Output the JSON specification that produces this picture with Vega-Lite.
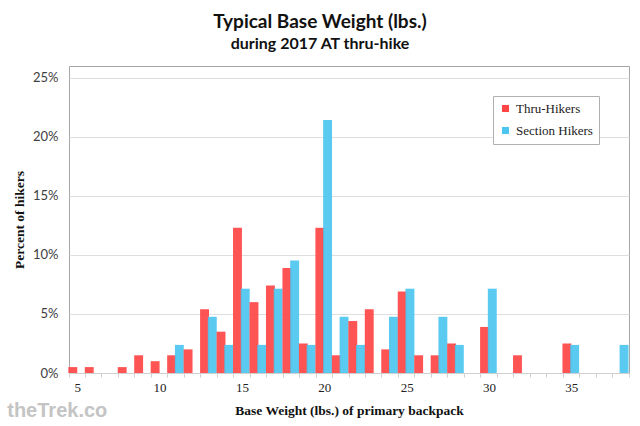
{
  "$schema": "https://vega.github.io/schema/vega-lite/v6.json",
  "autosize": "none",
  "width": 560,
  "height": 307,
  "padding": {"left": 69, "top": 66, "right": 11, "bottom": 53},
  "background": "white",
  "title": {
    "text": "Typical Base Weight (lbs.)",
    "subtitle": "during 2017 AT thru-hike",
    "anchor": "middle",
    "dx": -29,
    "offset": 14,
    "font": "Lato",
    "fontSize": 19,
    "fontWeight": "bold",
    "color": "#111111",
    "subtitleFont": "Lato",
    "subtitleFontSize": 16,
    "subtitleFontWeight": "bold",
    "subtitleColor": "#111111",
    "subtitlePadding": 4
  },
  "data": {
    "values": [
      {"weight": 5, "group": "Thru-Hikers", "pct": 0.005},
      {"weight": 6, "group": "Thru-Hikers", "pct": 0.005},
      {"weight": 8, "group": "Thru-Hikers", "pct": 0.005},
      {"weight": 9, "group": "Thru-Hikers", "pct": 0.015},
      {"weight": 10, "group": "Thru-Hikers", "pct": 0.010},
      {"weight": 11, "group": "Thru-Hikers", "pct": 0.015},
      {"weight": 11, "group": "Section Hikers", "pct": 0.0238},
      {"weight": 12, "group": "Thru-Hikers", "pct": 0.020},
      {"weight": 13, "group": "Thru-Hikers", "pct": 0.054},
      {"weight": 13, "group": "Section Hikers", "pct": 0.0476},
      {"weight": 14, "group": "Thru-Hikers", "pct": 0.035},
      {"weight": 14, "group": "Section Hikers", "pct": 0.0238},
      {"weight": 15, "group": "Thru-Hikers", "pct": 0.123},
      {"weight": 15, "group": "Section Hikers", "pct": 0.0714},
      {"weight": 16, "group": "Thru-Hikers", "pct": 0.060},
      {"weight": 16, "group": "Section Hikers", "pct": 0.0238},
      {"weight": 17, "group": "Thru-Hikers", "pct": 0.074},
      {"weight": 17, "group": "Section Hikers", "pct": 0.0714},
      {"weight": 18, "group": "Thru-Hikers", "pct": 0.089},
      {"weight": 18, "group": "Section Hikers", "pct": 0.0952},
      {"weight": 19, "group": "Thru-Hikers", "pct": 0.025},
      {"weight": 19, "group": "Section Hikers", "pct": 0.0238},
      {"weight": 20, "group": "Thru-Hikers", "pct": 0.123},
      {"weight": 20, "group": "Section Hikers", "pct": 0.2143},
      {"weight": 21, "group": "Thru-Hikers", "pct": 0.015},
      {"weight": 21, "group": "Section Hikers", "pct": 0.0476},
      {"weight": 22, "group": "Thru-Hikers", "pct": 0.044},
      {"weight": 22, "group": "Section Hikers", "pct": 0.0238},
      {"weight": 23, "group": "Thru-Hikers", "pct": 0.054},
      {"weight": 24, "group": "Thru-Hikers", "pct": 0.020},
      {"weight": 24, "group": "Section Hikers", "pct": 0.0476},
      {"weight": 25, "group": "Thru-Hikers", "pct": 0.069},
      {"weight": 25, "group": "Section Hikers", "pct": 0.0714},
      {"weight": 26, "group": "Thru-Hikers", "pct": 0.015},
      {"weight": 27, "group": "Thru-Hikers", "pct": 0.015},
      {"weight": 27, "group": "Section Hikers", "pct": 0.0476},
      {"weight": 28, "group": "Thru-Hikers", "pct": 0.025},
      {"weight": 28, "group": "Section Hikers", "pct": 0.0238},
      {"weight": 30, "group": "Thru-Hikers", "pct": 0.039},
      {"weight": 30, "group": "Section Hikers", "pct": 0.0714},
      {"weight": 32, "group": "Thru-Hikers", "pct": 0.015},
      {"weight": 35, "group": "Thru-Hikers", "pct": 0.025},
      {"weight": 35, "group": "Section Hikers", "pct": 0.0238},
      {"weight": 38, "group": "Section Hikers", "pct": 0.0238}
    ]
  },
  "layer": [
    {
      "mark": {"type": "bar", "width": {"band": 1.15}},
      "encoding": {
        "x": {
          "field": "weight",
          "type": "ordinal",
          "scale": {
            "domain": [5, 6, 7, 8, 9, 10, 11, 12, 13, 14, 15, 16, 17, 18, 19, 20, 21, 22, 23, 24, 25, 26, 27, 28, 29, 30, 31, 32, 33, 34, 35, 36, 37, 38],
            "paddingInner": 0.06,
            "paddingOuter": 0.03
          },
          "axis": {
            "title": "Base Weight (lbs.) of primary backpack",
            "labelAngle": 0,
            "labelExpr": "datum.value % 5 == 0 ? datum.label : ''",
            "tickBand": "extent",
            "grid": false,
            "labelFont": "Liberation Serif",
            "labelFontSize": 13,
            "labelColor": "#222222",
            "labelPadding": 4,
            "tickSize": 4,
            "tickColor": "#d0d0d0",
            "domainColor": "#d0d0d0",
            "titleFont": "Liberation Serif",
            "titleFontSize": 13.5,
            "titleFontWeight": "bold",
            "titleColor": "#111111",
            "titlePadding": 9
          }
        },
        "xOffset": {
          "field": "group",
          "type": "nominal",
          "scale": {"domain": ["Thru-Hikers", "Section Hikers"], "paddingInner": 0, "paddingOuter": 0}
        },
        "y": {
          "field": "pct",
          "type": "quantitative",
          "scale": {"domain": [0, 0.25]},
          "axis": {
            "title": "Percent of hikers",
            "format": ".0%",
            "values": [0, 0.05, 0.1, 0.15, 0.2, 0.25],
            "ticks": false,
            "domain": false,
            "gridColor": "#dedede",
            "labelFont": "Lato",
            "labelFontSize": 13,
            "labelColor": "#404040",
            "labelPadding": 11,
            "titleFont": "Liberation Serif",
            "titleFontSize": 13.5,
            "titleFontWeight": "bold",
            "titleColor": "#111111",
            "titlePadding": 6
          }
        },
        "color": {
          "field": "group",
          "type": "nominal",
          "scale": {"domain": ["Thru-Hikers", "Section Hikers"], "range": ["#ff4545", "#4cc5f0"]},
          "legend": {
            "title": null,
            "orient": "top-right",
            "offset": 30,
            "symbolType": "square",
            "symbolSize": 50,
            "symbolOpacity": 1,
            "labelFont": "Liberation Serif",
            "labelFontSize": 13,
            "labelColor": "#222222",
            "rowPadding": 8,
            "padding": 6,
            "strokeColor": "#b0b0b0",
            "fillColor": "white"
          }
        },
        "opacity": {"value": 0.92}
      }
    },
    {
      "data": {"values": [{"label": "theTrek.co"}]},
      "mark": {
        "type": "text",
        "align": "left",
        "baseline": "alphabetic",
        "dx": -70,
        "dy": 44,
        "font": "Liberation Sans",
        "fontSize": 20,
        "fontWeight": "bold",
        "color": "#c4c4c4"
      },
      "encoding": {
        "x": {"datum": 5, "type": "ordinal"},
        "y": {"datum": 0, "type": "quantitative"},
        "text": {"field": "label"}
      }
    }
  ],
  "config": {
    "view": {"stroke": "#a6a6a6", "strokeWidth": 1}
  }
}
